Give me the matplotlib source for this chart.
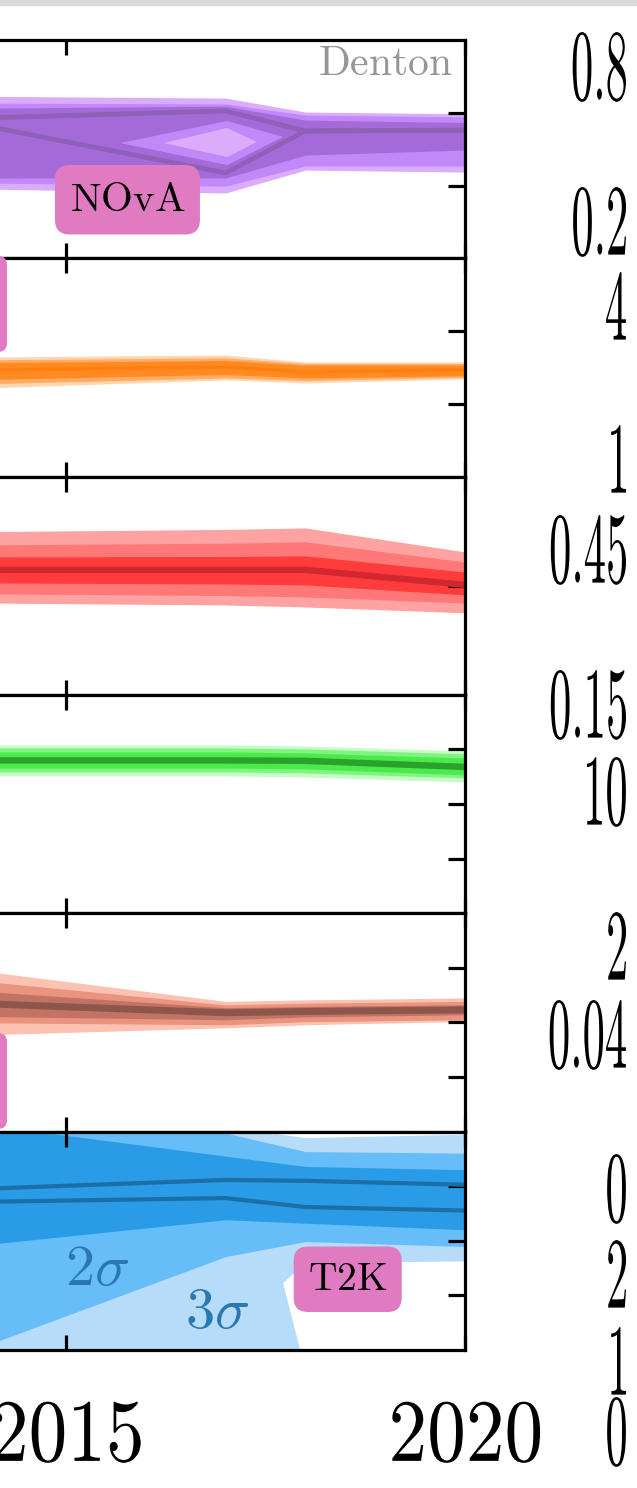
import matplotlib.pyplot as plt
from matplotlib.patches import FancyBboxPatch, Rectangle
from matplotlib.patheffects import AbstractPathEffect
from matplotlib.transforms import Affine2D

plt.rcParams['mathtext.fontset'] = 'cm'
plt.rcParams['font.family'] = 'DejaVu Serif'

# ---- data (each panel on a 0..1 scale) ----
years = [2014.0, 2017.0, 2018.0, 2020.0]

# panel 1 : NOvA
nova_3s_hi = [0.742, 0.734, 0.670, 0.662]
nova_3s_lo = [0.317, 0.299, 0.404, 0.395]
nova_2s_hi = [0.711, 0.707, 0.656, 0.648]
nova_2s_lo = [0.345, 0.331, 0.423, 0.423]
nova_1s_hi = [0.688, 0.697, 0.633, 0.622]
nova_1s_lo = [0.368, 0.368, 0.473, 0.496]
nova_bf_up = [0.643, 0.675, 0.583, 0.587]
nova_bf_dn = [0.606, 0.391, 0.583, 0.587]
nova_hole2_yr = [2015.68, 2017.02, 2017.72, 2017.02]
nova_hole2_val = [0.528, 0.629, 0.556, 0.427]
nova_hole3_yr = [2016.22, 2017.02, 2017.39, 2017.02]
nova_hole3_val = [0.528, 0.597, 0.533, 0.464]

# panel 2 : orange
or_3s_hi = [0.548, 0.557, 0.525, 0.525]
or_3s_lo = [0.406, 0.443, 0.429, 0.448]
or_2s_hi = [0.535, 0.544, 0.518, 0.518]
or_2s_lo = [0.425, 0.452, 0.440, 0.455]
or_1s_hi = [0.522, 0.532, 0.510, 0.510]
or_1s_lo = [0.445, 0.468, 0.452, 0.462]
or_bf = [0.489, 0.502, 0.480, 0.489]

# panel 3 : red
rd_3s_hi = [0.748, 0.758, 0.765, 0.655]
rd_3s_lo = [0.421, 0.412, 0.403, 0.376]
rd_2s_hi = [0.687, 0.695, 0.701, 0.609]
rd_2s_lo = [0.463, 0.455, 0.449, 0.421]
rd_1s_hi = [0.632, 0.634, 0.637, 0.563]
rd_1s_lo = [0.513, 0.508, 0.504, 0.458]
rd_bf = [0.573, 0.573, 0.573, 0.504]

# panel 4 : green
gr_3s_hi = [0.771, 0.771, 0.766, 0.744]
gr_3s_lo = [0.629, 0.629, 0.624, 0.601]
gr_2s_hi = [0.757, 0.757, 0.753, 0.730]
gr_2s_lo = [0.647, 0.647, 0.643, 0.620]
gr_1s_hi = [0.739, 0.739, 0.734, 0.711]
gr_1s_lo = [0.665, 0.665, 0.661, 0.634]
gr_bf = [0.700, 0.700, 0.698, 0.670]

# panel 5 : brown
br_3s_hi = [0.733, 0.596, 0.603, 0.612]
br_3s_lo = [0.443, 0.475, 0.489, 0.504]
br_2s_hi = [0.687, 0.580, 0.588, 0.596]
br_2s_lo = [0.498, 0.489, 0.503, 0.512]
br_1s_hi = [0.641, 0.567, 0.573, 0.580]
br_1s_lo = [0.527, 0.512, 0.525, 0.535]
br_bf = [0.585, 0.544, 0.550, 0.557]

# panel 6 : T2K
t2k_3s_top = [1.30, 1.02, 0.970, 0.985]
t2k_3s_bot_yr = [2020.0, 2018.0, 2017.72, 2017.97, 2014.0]
t2k_3s_bot_val = [0.405, 0.397, 0.305, -0.05, -0.05]
t2k_2s_hi = [1.30, 0.993, 0.908, 0.901]
t2k_2s_lo = [0.02, 0.427, 0.496, 0.473]
t2k_1s_hi = [1.03, 0.887, 0.840, 0.825]
t2k_1s_lo = [0.482, 0.596, 0.580, 0.550]
t2k_bf_up = [0.738, 0.778, 0.774, 0.756]
t2k_bf_dn = [0.678, 0.695, 0.654, 0.638]

xticks = [2010, 2015, 2020]
xtick_labels = [r'$2010$', r'$2015$', r'$2020$']
panel_yticks = [[1/3, 2/3], [1/3, 2/3], [0.5], [0.25, 0.5, 0.75],
                [0.25, 0.5, 0.75], [0.25, 0.5, 0.75]]

# tick labels of the next column, cut off at the right border
side_labels = ['0.8', '0.2', '4', '1', '0.45', '0.15', '10', '2', '0.04',
               '0', '2', '1', '0']
side_base_px = [100, 255, 340, 493, 583, 738, 825, 980, 1068, 1222, 1308,
                1395, 1465]


class Squeeze(AbstractPathEffect):
    """draw text squashed horizontally"""
    def __init__(self, sx, pivot='right'):
        super().__init__()
        self.sx = sx
        self.pivot = pivot

    def draw_path(self, renderer, gc, tpath, affine, rgbFace=None):
        ext = tpath.get_extents()
        p = ext.x1 if self.pivot == 'right' else 0.5 * (ext.x0 + ext.x1)
        sq = Affine2D().translate(-p, 0).scale(self.sx, 1).translate(p, 0)
        renderer.draw_path(gc, tpath, sq + affine, rgbFace)


W, H = 637, 1488
fig = plt.figure(figsize=(W / 100, H / 100), dpi=100)
fig.add_artist(Rectangle((0, 1 - 5 / H), 1, 5 / H, transform=fig.transFigure,
                         color='#dadada', zorder=0))

px_year = 79.8
right_px = 465
left_px = right_px - 10 * px_year
ph = 218.3
tops = [40 + i * ph for i in range(6)]

axes = []
for i, top in enumerate(tops):
    ax = fig.add_axes([left_px / W, 1 - (top + ph) / H, 10 * px_year / W, ph / H])
    ax.set_xlim(2010, 2020)
    ax.set_ylim(0, 1)
    ax.set_xticks(xticks)
    ax.set_xticklabels(xtick_labels)
    ax.set_yticks(panel_yticks[i])
    ax.tick_params(axis='x', direction='in', top=True, bottom=True,
                   length=11, width=2.3, labelbottom=(i == 5),
                   labelsize=64, pad=31)
    ax.tick_params(axis='y', direction='in', left=True, right=True,
                   labelleft=False, length=12, width=2.3)
    for s in ax.spines.values():
        s.set_linewidth(2.3)
    axes.append(ax)

for lab in axes[5].get_xticklabels():
    lab.set_path_effects([Squeeze(0.87, pivot='center')])


def bands(ax, bounds, cols, bf, lw):
    for (hi, lo), c in zip(bounds, cols[:3]):
        ax.fill_between(years, lo, hi, color=c, lw=0)
    for line in bf:
        ax.plot(years, line, color=cols[3], lw=lw, solid_capstyle='butt')


# NOvA
nova_c = ['#dcacfc', '#c088f8', '#a46ad8', '#8e60b8']
ax = axes[0]
for hi, lo, c in [(nova_3s_hi, nova_3s_lo, nova_c[0]),
                  (nova_2s_hi, nova_2s_lo, nova_c[1]),
                  (nova_1s_hi, nova_1s_lo, nova_c[2])]:
    ax.fill_between(years, lo, hi, color=c, lw=0)
ax.fill(nova_hole2_yr, nova_hole2_val, color=nova_c[1], lw=0)
ax.fill(nova_hole3_yr, nova_hole3_val, color=nova_c[0], lw=0)
ax.plot(years, nova_bf_up, color=nova_c[3], lw=3.4)
ax.plot(years, nova_bf_dn, color=nova_c[3], lw=3.4)
ax.text(2019.85, 0.840, r'$\mathrm{Denton}$', color='#969696', fontsize=30,
        ha='right', va='baseline')
ax.text(2015.77, 0.218, r'$\mathrm{NOvA}$', fontsize=29.5, ha='center',
        va='baseline', bbox=dict(boxstyle='round,pad=0.36', fc='#e07bc1', ec='none'))

bands(axes[1], [(or_3s_hi, or_3s_lo), (or_2s_hi, or_2s_lo), (or_1s_hi, or_1s_lo)],
      ['#ffd6b2', '#ffac64', '#ff8a22', '#ff7f0e'], [or_bf], 2.5)
bands(axes[2], [(rd_3s_hi, rd_3s_lo), (rd_2s_hi, rd_2s_lo), (rd_1s_hi, rd_1s_lo)],
      ['#ffa2a2', '#ff7878', '#ff3b3b', '#d22630'], [rd_bf], 4.6)
bands(axes[3], [(gr_3s_hi, gr_3s_lo), (gr_2s_hi, gr_2s_lo), (gr_1s_hi, gr_1s_lo)],
      ['#c6fcc6', '#80f480', '#4aea4a', '#2ca02c'], [gr_bf], 4.6)
bands(axes[4], [(br_3s_hi, br_3s_lo), (br_2s_hi, br_2s_lo), (br_1s_hi, br_1s_lo)],
      ['#fbc2b2', '#ea937f', '#c27364', '#8c564b'], [br_bf], 5.0)

# T2K
ax = axes[5]
ax.fill(years + t2k_3s_bot_yr, t2k_3s_top + t2k_3s_bot_val, color='#b6dcfa', lw=0)
ax.fill_between(years, t2k_2s_lo, t2k_2s_hi, color='#66bdf8', lw=0)
ax.fill_between(years, t2k_1s_lo, t2k_1s_hi, color='#2a9be6', lw=0)
ax.plot(years, t2k_bf_up, color='#1b6ea6', lw=3.0)
ax.plot(years, t2k_bf_dn, color='#1b6ea6', lw=3.0)
ax.text(2015.39, 0.298, r'$2\sigma$', color='#2a78b2', fontsize=42,
        ha='center', va='baseline')
ax.text(2016.89, 0.101, r'$3\sigma$', color='#2a78b2', fontsize=42,
        ha='center', va='baseline')
ax.text(2018.53, 0.275, r'$\mathrm{T2K}$', fontsize=28.5, ha='center',
        va='baseline', bbox=dict(boxstyle='round,pad=0.36', fc='#e07bc1', ec='none'))

# label boxes from the neighbouring column, cut at the left border
for y0, y1 in [(256, 352), (1033, 1129)]:
    fig.add_artist(FancyBboxPatch((-1.0, (H - y1) / 100), 1.07, (y1 - y0) / 100,
                                  boxstyle='round,pad=0,rounding_size=0.09',
                                  transform=fig.dpi_scale_trans,
                                  fc='#e07bc1', ec='none'))

for lab, yb in zip(side_labels, side_base_px):
    fig.text(628 / W, 1 - yb / H, '$' + lab + '$', fontsize=73, ha='right',
             va='baseline', path_effects=[Squeeze(0.44)])

fig.savefig('out.png', dpi=100)
